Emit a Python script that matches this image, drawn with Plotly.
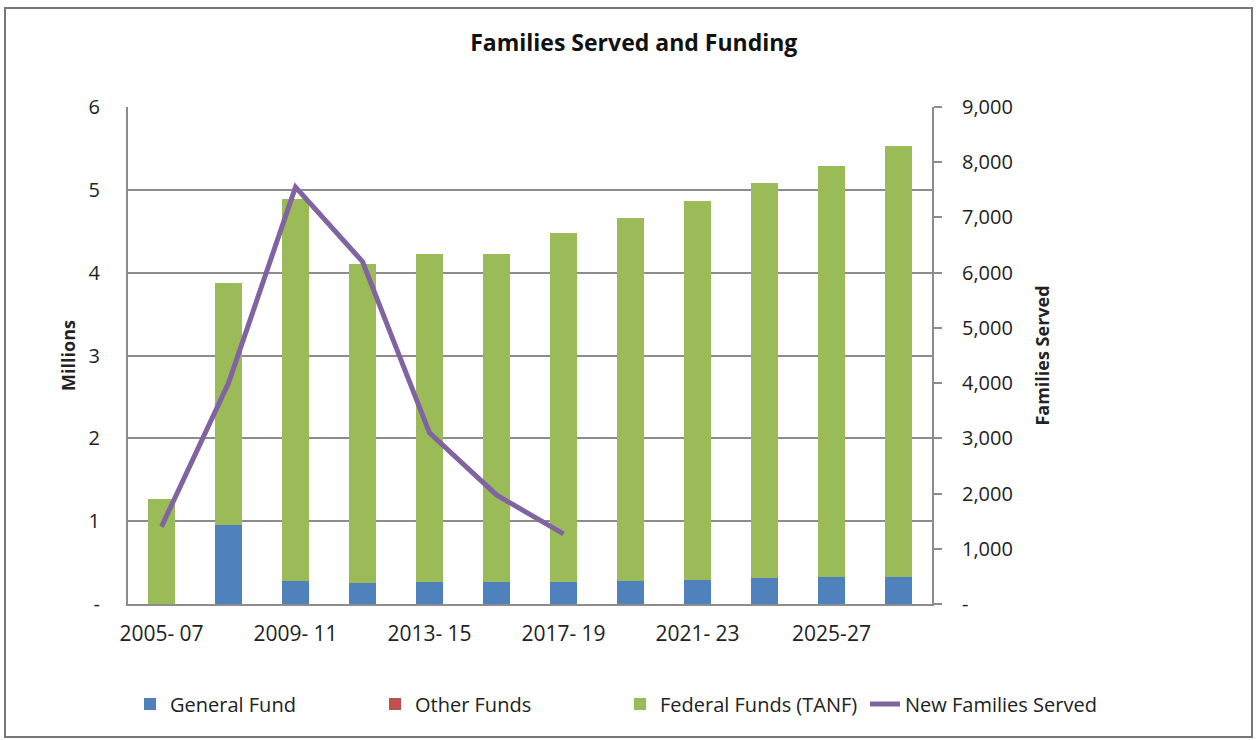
import plotly.graph_objects as go

periods = ["2005- 07", "2007- 09", "2009- 11", "2011- 13", "2013- 15", "2015- 17",
           "2017- 19", "2019- 21", "2021- 23", "2023- 25", "2025-27", "2027-29"]
shown_periods = periods[::2]

general_fund = [0.0, 0.95, 0.28, 0.25, 0.27, 0.27, 0.27, 0.28, 0.29, 0.31, 0.32, 0.33]
other_funds = [0] * 12
total_funding = [1.27, 3.87, 4.89, 4.11, 4.22, 4.22, 4.48, 4.66, 4.86, 5.08, 5.29, 5.53]
federal_funds = [round(t - g, 2) for t, g in zip(total_funding, general_fund)]

new_families = [1400, 4000, 7550, 6200, 3100, 1975, 1270, None, None, None, None, None]

left_ticks = [0, 1, 2, 3, 4, 5, 6]
left_text = ["-", "1", "2", "3", "4", "5", "6"]
right_ticks = [0, 1000, 2000, 3000, 4000, 5000, 6000, 7000, 8000, 9000]
right_text = ["-"] + [f"{v:,}" for v in right_ticks[1:]]

font = "Open Sans, Lato, sans-serif"
grey = "#8c8c8c"

fig = go.Figure()
fig.add_trace(go.Bar(x=periods, y=general_fund, name="General Fund",
                     marker=dict(color="#4F81BD", line_width=0)))
fig.add_trace(go.Bar(x=periods, y=other_funds, name="Other Funds",
                     marker=dict(color="#C0504D", line_width=0)))
fig.add_trace(go.Bar(x=periods, y=federal_funds, name="Federal Funds (TANF)",
                     marker=dict(color="#9BBB59", line_width=0)))
fig.add_trace(go.Scatter(x=periods, y=new_families, name="New Families Served",
                         mode="lines", yaxis="y2",
                         line=dict(color="#8064A2", width=5)))

# plot area in pixels, and the outer chart frame in paper coordinates
L, T, W, H = 128, 107, 804, 497
def px(x): return (x - L) / W
def py(y): return (T + H - y) / H

fig.update_layout(
    width=1260, height=740,
    margin=dict(l=L, r=1260 - L - W, t=T, b=740 - T - H, autoexpand=False),
    paper_bgcolor="white", plot_bgcolor="white",
    barmode="stack", bargap=0.6,
    font=dict(family=font, size=20, color="#222"),
    title=dict(text="<b>Families Served and Funding</b>", x=0.503, xref="container",
               xanchor="center", y=1 - 43 / 740, yanchor="middle",
               font=dict(size=23, color="#111")),
    xaxis=dict(type="category", tickmode="array", tickvals=shown_periods,
               ticktext=shown_periods, showline=True, linecolor=grey, linewidth=2,
               showgrid=False, ticks="", ticklabelstandoff=10, automargin=False,
               tickfont=dict(size=21)),
    yaxis=dict(range=[0, 6], tickmode="array", tickvals=left_ticks, ticktext=left_text,
               showgrid=True, gridcolor=grey, gridwidth=1.5, showline=True,
               linecolor=grey, linewidth=2, zeroline=False, ticks="",
               ticklabelstandoff=22, automargin=False,
               title=dict(text="<b>Millions</b>", font=dict(size=18), standoff=8)),
    yaxis2=dict(range=[0, 9000], overlaying="y", side="right", tickmode="array",
                tickvals=right_ticks, ticktext=right_text, showgrid=False,
                showline=True, linecolor=grey, linewidth=2, zeroline=False,
                ticks="outside", ticklen=8, tickcolor=grey, tickwidth=2,
                ticklabelstandoff=16, automargin=False,
                title=dict(text="<b>Families Served</b>", font=dict(size=18), standoff=24)),
    legend=dict(orientation="h", x=px(1110), xanchor="right", y=py(704),
                yanchor="middle", font=dict(size=20), traceorder="normal",
                entrywidth=200, entrywidthmode="pixels"),
    shapes=[dict(type="rect", xref="paper", yref="paper",
                 x0=px(5), x1=px(1252), y0=py(737), y1=py(8),
                 line=dict(color="#777", width=2), fillcolor="rgba(0,0,0,0)",
                 layer="below")],
)

fig.write_html("out.html", config={"displayModeBar": False},
               post_script="document.body.style.margin='0';")
